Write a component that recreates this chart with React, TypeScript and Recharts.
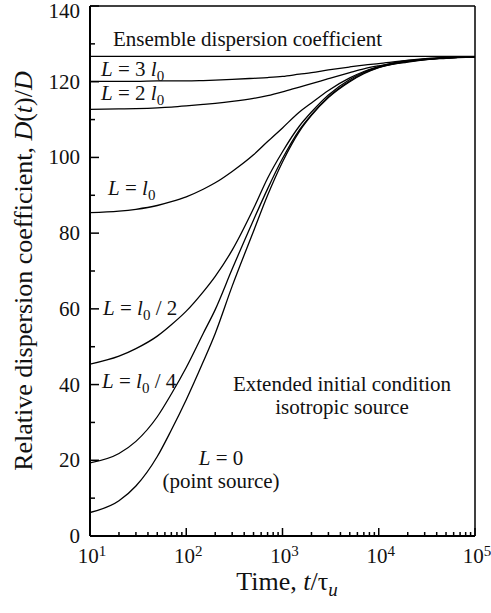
import { LineChart, Line, XAxis, YAxis, ReferenceLine } from 'recharts';

// time, t/tau_u
const times = [10, 20, 30, 50, 70, 100, 150, 200, 300, 500, 700, 1000, 1500, 2000, 3000, 5000, 7000, 10000, 20000, 50000, 100000];

// relative dispersion coefficient D(t)/D for each source size
const ensemble = [126.7, 126.7, 126.7, 126.7, 126.7, 126.7, 126.7, 126.7, 126.7, 126.7, 126.7, 126.7, 126.7, 126.7, 126.7, 126.7, 126.7, 126.7, 126.7, 126.7, 126.7];
const l3 = [120.1, 120.1, 120.1, 120.2, 120.2, 120.2, 120.3, 120.4, 120.6, 120.9, 121.1, 121.4, 122.0, 122.4, 123.1, 123.9, 124.4, 124.8, 125.6, 126.3, 126.6];
const l2 = [112.7, 112.8, 112.9, 113.1, 113.3, 113.6, 114.0, 114.3, 114.8, 115.6, 116.3, 117.3, 118.6, 119.5, 120.8, 122.4, 123.4, 124.2, 125.4, 126.2, 126.6];
const l1 = [85.4, 85.8, 86.3, 87.3, 88.3, 89.6, 91.6, 93.3, 96.3, 100.7, 104.2, 107.8, 112.0, 114.4, 117.7, 121.0, 122.7, 124.0, 125.6, 126.4, 126.6];
const lHalf = [45.4, 47.5, 49.5, 52.8, 55.8, 59.4, 64.5, 68.6, 75.5, 86.5, 94.5, 101.5, 108.3, 112.0, 116.5, 120.6, 122.5, 123.9, 125.4, 126.3, 126.6];
const lQuarter = [19.3, 21.8, 25.0, 31.5, 37.5, 44.5, 53.5, 59.8, 70.5, 83.5, 91.7, 99.7, 107.3, 111.3, 116.0, 120.2, 122.3, 123.8, 125.3, 126.3, 126.6];
const lZero = [6.2, 9.3, 13.2, 21.0, 28.0, 36.0, 46.0, 53.5, 66.0, 80.5, 90.0, 98.8, 106.9, 111.1, 115.8, 120.0, 122.1, 123.7, 125.2, 126.3, 126.6];

const xMajor = [10, 100, 1000, 10000, 100000];
const xMinorMult = [2, 3, 4, 5, 6, 7, 8, 9];
const yTicks = [0, 10, 20, 30, 40, 50, 60, 70, 80, 90, 100, 110, 120, 130, 140];

const data = times.map((t, i) => ({
  t,
  ensemble: ensemble[i],
  l3: l3[i],
  l2: l2[i],
  l1: l1[i],
  lHalf: lHalf[i],
  lQuarter: lQuarter[i],
  lZero: lZero[i],
}));

const xTicks = [
  ...xMajor,
  ...xMajor.slice(0, -1).flatMap(d => xMinorMult.map(m => m * d)),
].sort((a, b) => a - b);

const FONT = '"Liberation Serif", "Times New Roman", serif';
const TICK_GAP = 8;

function YTick(props: any) {
  const { x, y, payload } = props;
  const axisX = x + TICK_GAP;
  const major = payload.value % 20 === 0;
  return (
    <g>
      <line x1={axisX} x2={axisX + (major ? 9 : 5)} y1={y} y2={y} stroke="#000" strokeWidth={1.5} />
      {major && (
        <text x={axisX - 10} y={y} dy={payload.value === 140 ? 12 : 7} textAnchor="end" fontSize={21} fontFamily={FONT} fill="#111">
          {payload.value}
        </text>
      )}
    </g>
  );
}

function XTick(props: any) {
  const { x, y, payload } = props;
  const axisY = y - TICK_GAP;
  const exp = Math.round(Math.log10(payload.value));
  const major = Math.abs(Math.pow(10, exp) - payload.value) < 1e-6;
  return (
    <g>
      <line x1={x} x2={x} y1={axisY} y2={axisY - (major ? 8 : 4)} stroke="#000" strokeWidth={1.5} />
      {major && (
        <text x={x + 2} y={axisY + 27} textAnchor="middle" fontSize={21} fontFamily={FONT} fill="#111">
          10<tspan dy={-7} fontSize={15}>{exp}</tspan>
        </text>
      )}
    </g>
  );
}

// italic "L = ..." label with a subscript zero
function LLabel({ x, y, pre, post, anchor }: { x: number; y: number; pre: string; post?: string; anchor?: 'start' | 'middle' }) {
  return (
    <text x={x} y={y} fontSize={21} fontFamily={FONT} fill="#111" textAnchor={anchor || 'start'}>
      <tspan fontStyle="italic">L</tspan>
      {' = ' + pre}
      {post !== undefined && (
        <>
          <tspan fontStyle="italic">l</tspan>
          <tspan dy={5} fontSize={15}>0</tspan>
          <tspan dy={-5}>{post}</tspan>
        </>
      )}
    </text>
  );
}

export default function App() {
  const lineProps = {
    type: 'monotone' as const,
    dot: false,
    stroke: '#000',
    strokeWidth: 1.3,
    isAnimationActive: false,
  };
  return (
    <div style={{ position: 'absolute', left: 0, top: 0, width: 491, height: 613, background: '#fff' }}>
      <LineChart width={491} height={613} data={data} margin={{ top: 6, right: 16, left: 0, bottom: 17 }}>
        <XAxis
          dataKey="t"
          type="number"
          scale="log"
          domain={[10, 100000]}
          ticks={xTicks}
          interval={0}
          tickSize={0}
          tickMargin={TICK_GAP}
          tick={<XTick />}
          axisLine={{ stroke: '#000', strokeWidth: 2 }}
          tickLine={false}
          height={60}
          allowDataOverflow
        />
        <YAxis
          type="number"
          domain={[0, 140]}
          ticks={yTicks}
          interval={0}
          tickSize={0}
          tickMargin={TICK_GAP}
          tick={<YTick />}
          axisLine={{ stroke: '#000', strokeWidth: 2 }}
          tickLine={false}
          width={90}
        />
        <ReferenceLine y={140} stroke="#000" strokeWidth={1.5} />
        <ReferenceLine x={100000} stroke="#000" strokeWidth={1.5} />
        <Line dataKey="ensemble" {...lineProps} />
        <Line dataKey="l3" {...lineProps} />
        <Line dataKey="l2" {...lineProps} />
        <Line dataKey="l1" {...lineProps} />
        <Line dataKey="lHalf" {...lineProps} />
        <Line dataKey="lQuarter" {...lineProps} />
        <Line dataKey="lZero" {...lineProps} />
      </LineChart>
      <svg width={491} height={613} style={{ position: 'absolute', left: 0, top: 0, pointerEvents: 'none' }}>
        <text x={113} y={46} fontSize={21} fontFamily={FONT} fill="#111">Ensemble dispersion coefficient</text>
        <LLabel x={101} y={76} pre="3 " post="" />
        <LLabel x={101} y={100} pre="2 " post="" />
        <LLabel x={108} y={195} pre="" post="" />
        <LLabel x={103} y={315} pre="" post=" / 2" />
        <LLabel x={102} y={388} pre="" post=" / 4" />
        <LLabel x={221} y={465} pre="0" anchor="middle" />
        <text x={221} y={488} textAnchor="middle" fontSize={21} fontFamily={FONT} fill="#111">(point source)</text>
        <text x={342} y={391} textAnchor="middle" fontSize={21} fontFamily={FONT} fill="#111">Extended initial condition</text>
        <text x={342} y={414} textAnchor="middle" fontSize={21} fontFamily={FONT} fill="#111">isotropic source</text>
        <text x={287} y={590} textAnchor="middle" fontSize={26} fontFamily={FONT} fill="#111">
          Time, <tspan fontStyle="italic">t</tspan>/τ<tspan dy={6} fontSize={19} fontStyle="italic">u</tspan>
        </text>
        <text transform="translate(32,271) rotate(-90)" textAnchor="middle" fontSize={26} fontFamily={FONT} fill="#111">
          Relative dispersion coefficient, <tspan fontStyle="italic">D</tspan>(<tspan fontStyle="italic">t</tspan>)/<tspan fontStyle="italic">D</tspan>
        </text>
      </svg>
    </div>
  );
}
